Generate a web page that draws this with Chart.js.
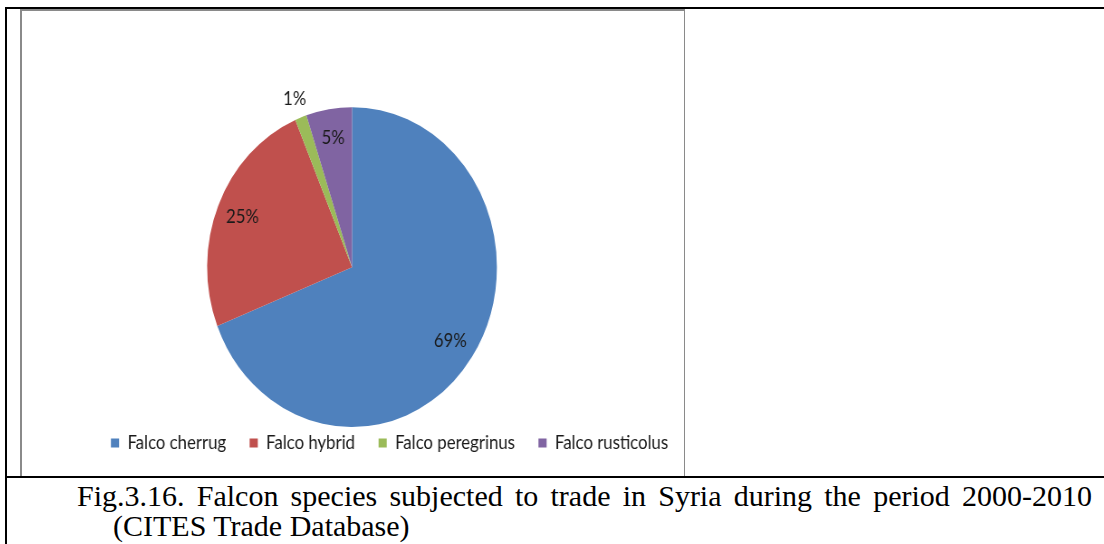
<!DOCTYPE html>
<html><head><meta charset="utf-8">
<script src="https://cdn.jsdelivr.net/npm/chart.js@4.4.1/dist/chart.umd.min.js"></script>
<style>
html,body{margin:0;padding:0;background:#fff;width:1104px;height:544px;overflow:hidden;}
.ln{position:absolute;}
#wrap{position:absolute;left:22px;top:11px;width:800px;height:465px;transform:scaleX(0.9056);transform-origin:0 0;}
#cap{position:absolute;left:113px;top:481px;width:979px;text-indent:-36px;font-family:"Liberation Serif","Times New Roman",serif;font-size:30px;line-height:30px;color:#000;text-align:justify;text-align-last:left;}
.nw{white-space:nowrap;}
</style></head><body>
<div class="ln" style="left:5px;top:7px;width:1099px;height:2px;background:#000"></div>
<div class="ln" style="left:5px;top:7px;width:2px;height:537px;background:#000"></div>
<div class="ln" style="left:5px;top:476px;width:1099px;height:2px;background:#000"></div>
<div class="ln" style="left:20px;top:9px;width:665px;height:2px;background:#8a8a8a"></div>
<div class="ln" style="left:20px;top:9px;width:2px;height:467px;background:#8a8a8a"></div>
<div class="ln" style="left:684px;top:9px;width:1px;height:467px;background:#8a8a8a"></div>
<div id="wrap"><canvas id="c" width="800" height="465"></canvas></div>
<div id="cap">Fig.3.16. Falcon species subjected to trade in Syria during the period <span class="nw">2000-2010</span> (CITES Trade Database)</div>
<script>
const categories = ['Falco cherrug', 'Falco hybrid', 'Falco peregrinus', 'Falco rusticolus'];
const shares = [69.0, 24.6, 1.3, 5.1];
const sliceColors = ['#4F81BD', '#C0504D', '#9BBB59', '#8064A2'];

const PLOT_SHIFT_X = -41.4;
const LABEL_FONT = '18.5px Lato';

const shiftPlot = {
  id: 'shiftPlot',
  afterLayout(chart) {
    const a = chart.chartArea;
    a.left += PLOT_SHIFT_X;
    a.right += PLOT_SHIFT_X;
  }
};

const pctLabels = {
  id: 'pctLabels',
  afterDatasetsDraw(chart) {
    const ctx = chart.ctx;
    const meta = chart.getDatasetMeta(0);
    const data = chart.data.datasets[0].data;
    const total = data.reduce((s, v) => s + v, 0);
    ctx.save();
    ctx.font = LABEL_FONT;
    ctx.fillStyle = '#1a1a1a';
    ctx.textAlign = 'center';
    ctx.textBaseline = 'middle';
    meta.data.forEach((arc, i) => {
      const p = arc.getProps(['x', 'y', 'startAngle', 'endAngle', 'outerRadius'], true);
      const mid = (p.startAngle + p.endAngle) / 2;
      const pct = data[i] / total * 100;
      const f = pct < 3 ? 1.12 : 0.82;
      ctx.fillText(Math.round(pct) + '%', p.x + Math.cos(mid) * p.outerRadius * f, p.y + Math.sin(mid) * p.outerRadius * f);
    });
    ctx.restore();
  }
};

new Chart(document.getElementById('c'), {
  type: 'pie',
  data: {
    labels: categories,
    datasets: [{
      data: shares,
      backgroundColor: sliceColors,
      borderWidth: 0,
      radius: 160
    }]
  },
  options: {
    responsive: false,
    animation: false,
    layout: { padding: { left: 40, right: 28.4, top: 115.5, bottom: 13.75 } },
    plugins: {
      legend: {
        position: 'bottom',
        labels: {
          boxWidth: 9,
          boxHeight: 9,
          padding: 26,
          color: '#1a1a1a',
          font: { family: 'Lato', size: 18.5 }
        }
      },
      tooltip: { enabled: false }
    }
  },
  plugins: [shiftPlot, pctLabels]
});
</script>
</body></html>
